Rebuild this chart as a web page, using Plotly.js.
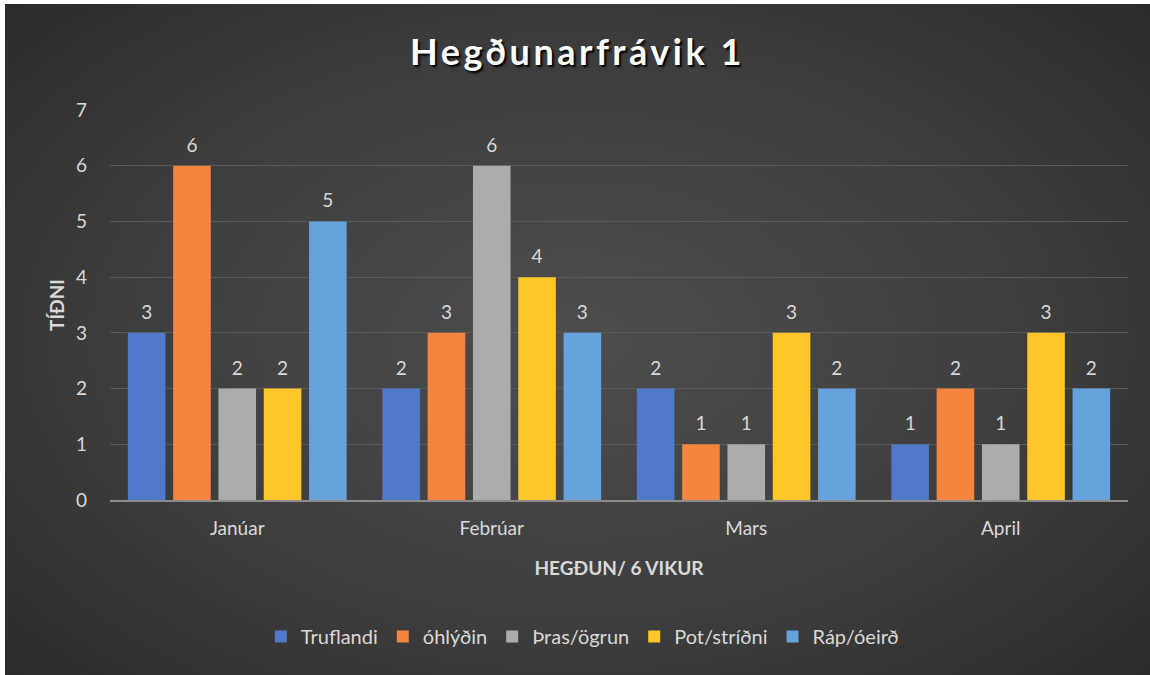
<!DOCTYPE html>
<html>
<head>
<meta charset="utf-8">
<script src="https://cdn.plot.ly/plotly-3.0.1.min.js"></script>
<style>
  html, body { margin: 0; padding: 0; background: #ffffff; width: 1150px; height: 675px; overflow: hidden; }
  #wrap { position: absolute; left: 5px; top: 4px; width: 1145px; height: 671px;
          background: radial-gradient(ellipse 70% 75% at 50% 50%, #4d4d4d 0%, #3e3e3e 55%, #2a2a2a 100%); }
  #chart { width: 1145px; height: 671px; }
  #chart .gtitle { letter-spacing: 3.5px; }
</style>
</head>
<body>
<div id="wrap"><div id="chart"></div></div>
<script>
const months = ["Janúar", "Febrúar", "Mars", "April"];
const seriesNames = ["Truflandi", "óhlýðin", "Þras/ögrun", "Pot/stríðni", "Ráp/óeirð"];
const truflandi = [3, 2, 2, 1];
const ohlydin = [6, 3, 1, 2];
const thras = [2, 6, 1, 1];
const pot = [2, 4, 3, 3];
const rap = [5, 3, 2, 2];
const seriesValues = [truflandi, ohlydin, thras, pot, rap];
const colors = ["#5079c9", "#f4853f", "#acacac", "#ffc52a", "#66a2dc"];

const FONT = "Lato, 'Open Sans', sans-serif";
const TXT = "#d9d9d9";

const traces = seriesNames.map((name, i) => ({
  type: "bar",
  name: name,
  x: months,
  y: seriesValues[i],
  marker: { color: colors[i], line: { width: 0 } },
  text: seriesValues[i].map(String),
  textposition: "outside",
  cliponaxis: false,
  textfont: { family: FONT, size: 19, color: TXT },
  hoverinfo: "x+y+name"
}));

const layout = {
  width: 1145,
  height: 671,
  paper_bgcolor: "rgba(0,0,0,0)",
  plot_bgcolor: "rgba(0,0,0,0)",
  margin: { l: 105, r: 22, t: 106, b: 175 },
  barmode: "group",
  bargap: 0.11,
  bargroupgap: 0.17,
  font: { family: FONT, color: TXT, size: 19 },
  title: {
    text: "Hegðunarfrávik 1",
    x: 0.5, xanchor: "center",
    y: 0.928, yanchor: "middle",
    font: { family: FONT, size: 36, color: "#ffffff", weight: 700, shadow: "2px 2px 2px #000000" }
  },
  xaxis: {
    type: "category",
    showgrid: false,
    showline: true,
    linecolor: "#8c8c8c",
    linewidth: 2,
    ticks: "",
    tickfont: { family: FONT, size: 19, color: TXT },
    ticklabelstandoff: 10,
    title: { text: "HEGÐUN/ 6 VIKUR", font: { family: FONT, size: 19, color: TXT, weight: 700 }, standoff: 24 }
  },
  yaxis: {
    range: [0, 7],
    dtick: 1,
    showgrid: true,
    gridcolor: "#5a5a5a",
    gridwidth: 1,
    zeroline: false,
    showline: false,
    ticks: "",
    tickfont: { family: FONT, size: 19, color: TXT },
    ticklabelstandoff: 22,
    title: { text: "TÍÐNI", font: { family: FONT, size: 19, color: TXT, weight: 700 }, standoff: 6 }
  },
  legend: {
    orientation: "h",
    x: 0.464, xanchor: "center",
    y: -0.35, yanchor: "middle",
    font: { family: FONT, size: 20, color: TXT },
    itemwidth: 30,
    traceorder: "normal",
    bgcolor: "rgba(0,0,0,0)"
  },
  showlegend: true
};

Plotly.newPlot("chart", traces, layout, { displayModeBar: false }).then(gd => {
  // lift the value labels a little further above the bars, as in the reference
  gd.querySelectorAll("text.bartext").forEach(t => {
    const tr = t.getAttribute("transform") || "";
    t.setAttribute("transform", "translate(0,-7) " + tr);
  });
});
</script>
</body>
</html>
